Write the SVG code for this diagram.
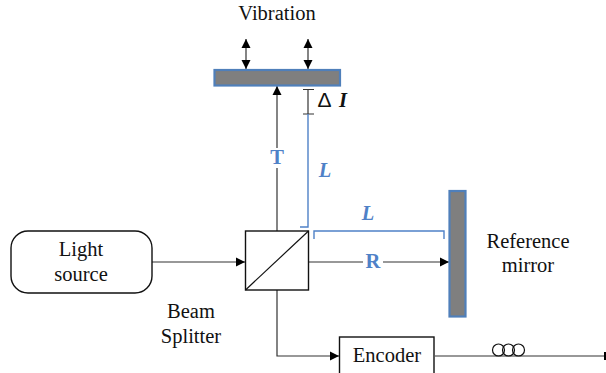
<svg xmlns="http://www.w3.org/2000/svg" width="606" height="373" viewBox="0 0 606 373">
<style>
text{font-family:"Liberation Serif","Times New Roman",serif;font-size:20.5px;fill:#111;text-anchor:middle}
.b{fill:#4f81c7;font-weight:bold}
.i{fill:#4f81c7;font-weight:bold;font-style:italic}
.c{fill:none;stroke:#333;stroke-width:1.2}
.d{fill:none;stroke:#4f81c7;stroke-width:1.4}
.m{fill:#7f7f7f;stroke:#4f7fba;stroke-width:2.2}
.n{fill:#fff;stroke:#111;stroke-width:1.4}
</style>
<defs>
<marker id="a" markerUnits="userSpaceOnUse" markerWidth="10" markerHeight="10" refX="9" refY="5" orient="auto-start-reverse"><path d="M0 0.5L9 5L0 9.5Z" fill="#000"/></marker>
</defs>
<g id="connectors">
<path class="c" d="M152 262H245" marker-end="url(#a)"/>
<path class="c" d="M277 232V86" marker-end="url(#a)"/>
<path class="c" d="M309 262H449" marker-end="url(#a)"/>
<path class="c" d="M277 290V356H339" marker-end="url(#a)"/>
<path class="c" d="M435 356H606"/>
<path d="M605 352V360" stroke="#000" stroke-width="2"/>
<path class="c" d="M246 69V39" marker-start="url(#a)" marker-end="url(#a)"/>
<path class="c" d="M308 69V39" marker-start="url(#a)" marker-end="url(#a)"/>
<path class="c" d="M308 89V114"/>
<path class="c" d="M303 89.500H314M303 114H314"/>
<path class="d" d="M308 114V227H300"/>
<path class="d" d="M314 239V231H444V239"/>
<g fill="none" stroke="#111" stroke-width="1.2"><circle cx="498.500" cy="350" r="6"/><circle cx="508.500" cy="350" r="6"/><circle cx="518.500" cy="350" r="6"/></g>
</g>
<g id="vibrating-mirror"><rect class="m" x="214.500" y="70" width="125.500" height="15.500"/></g>
<g id="reference-mirror"><rect class="m" x="449.500" y="191" width="16" height="125.500"/></g>
<g id="light-source"><rect class="n" x="11" y="231" width="141" height="62" rx="17"/><text x="81" y="256">Light</text><text x="81" y="281">source</text></g>
<g id="beam-splitter"><rect class="n" x="245.500" y="231" width="63" height="59"/><path d="M245.500 290L308.500 231" stroke="#111" stroke-width="1.2"/><text x="191" y="318">Beam</text><text x="191" y="343">Splitter</text></g>
<g id="encoder"><rect class="n" x="339.500" y="337" width="94.500" height="45"/><text x="387" y="362">Encoder</text></g>
<g id="labels">
<text x="277" y="20">Vibration</text>
<text x="324.500" y="107" style="font-family:'Liberation Sans',sans-serif;font-size:21px">Δ</text>
<text x="343" y="107" style="font-weight:bold;font-style:italic">I</text>
<rect x="268" y="148" width="18" height="20" fill="#fff"/><text class="b" x="277" y="164">T</text>
<text class="i" x="325" y="177">L</text>
<text class="i" x="368" y="220">L</text>
<rect x="363" y="252" width="20" height="20" fill="#fff"/><text class="b" x="373" y="268">R</text>
<text x="528" y="248">Reference</text><text x="528" y="272">mirror</text>
</g>
</svg>
